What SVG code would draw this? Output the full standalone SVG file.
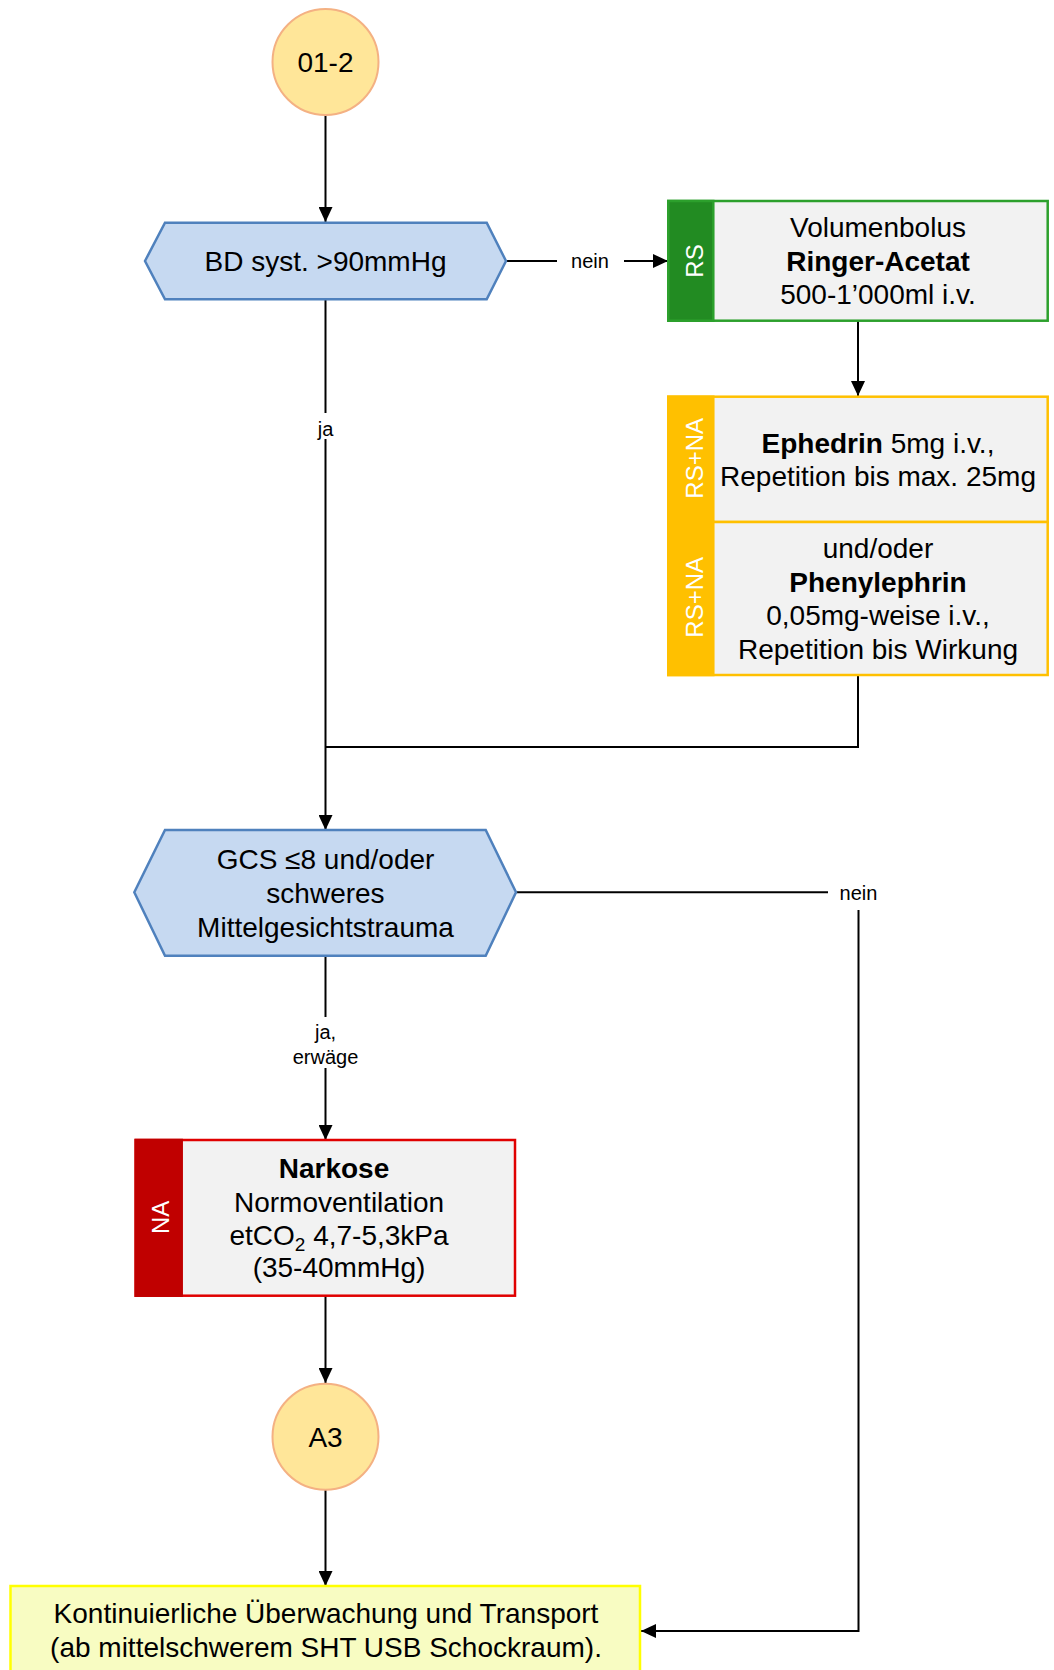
<svg xmlns="http://www.w3.org/2000/svg" width="1054" height="1670" viewBox="0 0 1054 1670">
<defs>
<marker id="arr" markerUnits="userSpaceOnUse" markerWidth="15" markerHeight="14" refX="15" refY="7" orient="auto">
<path d="M0,0 L15,7 L0,14 z" fill="#000"/>
</marker>
<style>
text{font-family:"Liberation Sans",Arial,sans-serif;fill:#000}
.t{font-size:28px;text-anchor:middle}
.b{font-weight:bold}
.lbl{font-size:20px;text-anchor:middle}
.side{font-size:24px;text-anchor:middle;fill:#fff}
.conn{stroke:#000;stroke-width:2;fill:none}
.circ{fill:#FFE699;stroke:#F4B183;stroke-width:2}
.hex{fill:#C6D9F1;stroke:#4F81BD;stroke-width:2.5}
.box{fill:#F2F2F2;stroke-width:2.5}
</style>
</defs>
<rect width="1054" height="1670" fill="#fff"/>

<g id="connectors">
<path class="conn" d="M325.5,115 V222" marker-end="url(#arr)"/>
<path class="conn" d="M506,261 H557"/>
<path class="conn" d="M624,261 H668" marker-end="url(#arr)"/>
<text class="lbl" x="590" y="268">nein</text>
<path class="conn" d="M858,321 V396" marker-end="url(#arr)"/>
<path class="conn" d="M858,675 V747 H325.5"/>
<path class="conn" d="M325.5,299.3 V413"/>
<path class="conn" d="M325.5,439 V830" marker-end="url(#arr)"/>
<text class="lbl" x="325.5" y="436">ja</text>
<path class="conn" d="M516,892.3 H828"/>
<text class="lbl" x="858.5" y="900">nein</text>
<path class="conn" d="M858.5,910 V1631 H641" marker-end="url(#arr)"/>
<path class="conn" d="M325.5,955.7 V1017"/>
<text class="lbl" x="325.5" y="1039">ja,</text>
<text class="lbl" x="325.5" y="1064">erwäge</text>
<path class="conn" d="M325.5,1068 V1140" marker-end="url(#arr)"/>
<path class="conn" d="M325.5,1296 V1383" marker-end="url(#arr)"/>
<path class="conn" d="M325.5,1490 V1586" marker-end="url(#arr)"/>
</g>

<g id="start-01-2">
<circle class="circ" cx="325.5" cy="62" r="53"/>
<text class="t" x="325.5" y="72">01-2</text>
</g>

<g id="decision-bd">
<polygon class="hex" points="145,261 165,222.7 486.7,222.7 506,261 486.7,299.3 165,299.3"/>
<text class="t" x="325.5" y="271">BD syst. &gt;90mmHg</text>
</g>

<g id="rs-volumenbolus">
<rect class="box" x="668.3" y="201" width="379.4" height="119.7" stroke="#2CA02C"/>
<rect x="668.3" y="201" width="45" height="119.7" fill="#228B22" stroke="#2CA02C" stroke-width="2.5"/>
<text class="side" x="703" y="261" transform="rotate(-90 703 261)">RS</text>
<text class="t" x="878" y="236.7">Volumenbolus</text>
<text class="t b" x="878" y="271">Ringer-Acetat</text>
<text class="t" x="878" y="304.3">500-1’000ml i.v.</text>
</g>

<g id="rsna-ephedrin">
<rect class="box" x="668.3" y="396.7" width="379.4" height="125.3" stroke="#FFC000"/>
<rect x="668.3" y="396.7" width="45" height="125.3" fill="#FFC000" stroke="#FFC000" stroke-width="2.5"/>
<text class="side" x="703" y="458.3" transform="rotate(-90 703 458.3)">RS+NA</text>
<text class="t" x="878" y="453.3"><tspan class="b">Ephedrin</tspan> 5mg i.v.,</text>
<text class="t" x="878" y="485.7">Repetition bis max. 25mg</text>
</g>

<g id="rsna-phenylephrin">
<rect class="box" x="668.3" y="522" width="379.4" height="153" stroke="#FFC000"/>
<rect x="668.3" y="522" width="45" height="153" fill="#FFC000" stroke="#FFC000" stroke-width="2.5"/>
<text class="side" x="703" y="597.3" transform="rotate(-90 703 597.3)">RS+NA</text>
<text class="t" x="878" y="558.3">und/oder</text>
<text class="t b" x="878" y="592.3">Phenylephrin</text>
<text class="t" x="878" y="625">0,05mg-weise i.v.,</text>
<text class="t" x="878" y="659.3">Repetition bis Wirkung</text>
</g>

<g id="decision-gcs">
<polygon class="hex" points="134.3,892.3 165,830 485.7,830 516,892.3 485.7,955.7 165,955.7"/>
<text class="t" x="325.5" y="869.3">GCS ≤8 und/oder</text>
<text class="t" x="325.5" y="903">schweres</text>
<text class="t" x="325.5" y="936.7">Mittelgesichtstrauma</text>
</g>

<g id="na-narkose">
<rect class="box" x="135.7" y="1140" width="379.3" height="155.7" stroke="#E00000"/>
<rect x="135.7" y="1140" width="46" height="155.7" fill="#C00000" stroke="#C00000" stroke-width="2.5"/>
<text class="side" x="169.3" y="1217.3" transform="rotate(-90 169.3 1217.3)">NA</text>
<text class="t b" x="334" y="1178.3">Narkose</text>
<text class="t" x="339" y="1211.7">Normoventilation</text>
<text class="t" x="339" y="1245">etCO<tspan font-size="19" dy="6">2</tspan><tspan dy="-6"> 4,7-5,3kPa</tspan></text>
<text class="t" x="339" y="1276.7">(35-40mmHg)</text>
</g>

<g id="connector-a3">
<circle class="circ" cx="325.5" cy="1436.7" r="53"/>
<text class="t" x="325.5" y="1446.7">A3</text>
</g>

<g id="transport">
<rect x="10.5" y="1586" width="629.5" height="95" fill="#F8FCC2" stroke="#FFFF00" stroke-width="2.5"/>
<text class="t" x="326" y="1623">Kontinuierliche Überwachung und Transport</text>
<text class="t" x="326" y="1657">(ab mittelschwerem SHT USB Schockraum).</text>
</g>
</svg>
